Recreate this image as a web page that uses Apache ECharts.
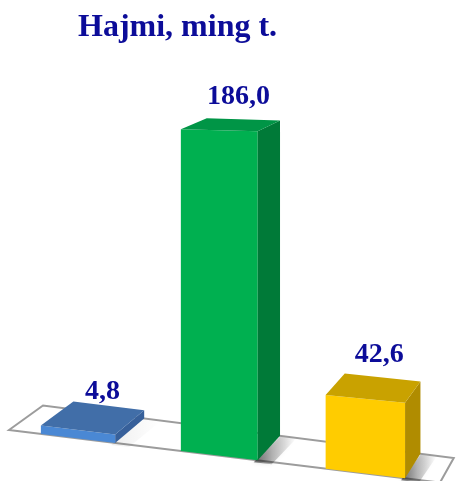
<!DOCTYPE html>
<html>
<head>
<meta charset="utf-8">
<script src="https://cdn.jsdelivr.net/npm/echarts@6/dist/echarts.min.js"></script>
<style>
  html, body { margin: 0; padding: 0; background: #fff; }
  #chart { width: 456px; height: 481px; }
</style>
</head>
<body>
<div id="chart"></div>
<script>
const categories = ['1', '2', '3']
const values = [4.8, 186.0, 42.6]
const titleText = 'Hajmi, ming t.'

// face colours for each bar: front, top, side
const faceColors = [
  ['#4a88d4', '#416ea8', '#37609a'],
  ['#00b050', '#009546', '#007a38'],
  ['#ffcc00', '#c9a200', '#b08c00'],
]
const textColor = '#0c0c99'

// oblique "3d" look
const SLOPE = 0.122   // floor front edge runs down to the right
const WARP = 0.05     // mild perspective squeeze along x
const RISE = 0.0003   // front faces get taller to the right

function makeGeom (cs) {
  const gx = cs.x
  const gw = cs.width
  const gb = cs.y + cs.height
  return {
    warp (u) {
      const t = (u - gx) / gw
      return gx + gw * (t - WARP * t * (1 - t))
    },
    base (x) {
      return gb + SLOPE * (x - gx)
    },
    depth (x, h) {
      return [34 - 0.047 * (x - gx), -24.5 + 0.042 * h]
    },
  }
}

function add (p, d) {
  return [p[0] + d[0], p[1] + d[1]]
}

function renderFloor (params, api) {
  const cs = params.coordSys
  const g = makeGeom(cs)
  const xl = cs.x
  const xr = cs.x + cs.width
  const fl = [xl, g.base(xl)]
  const fr = [xr, g.base(xr)]
  return {
    type: 'polygon',
    silent: true,
    shape: { points: [fl, fr, add(fr, g.depth(xr, 0)), add(fl, g.depth(xl, 0))] },
    style: { fill: '#fff', stroke: '#9c9c9c', lineWidth: 2 },
  }
}

function renderBar (params, api) {
  const i = api.value(0)
  const v = api.value(1)
  const g = makeGeom(params.coordSys)
  const bottom = api.coord([i, 0])
  const top = api.coord([i, v])
  const h = bottom[1] - top[1]
  const bw = api.size([1, 0])[0] * 0.535
  const x0 = g.warp(bottom[0] - bw / 2)
  const x1 = g.warp(bottom[0] + bw / 2)
  const h1 = h * (1 + RISE * (x1 - x0))

  const fb0 = [x0, g.base(x0)]
  const fb1 = [x1, g.base(x1)]
  const ft0 = [x0, fb0[1] - h]
  const ft1 = [x1, fb1[1] - h1]
  const d0 = g.depth(x0, h)
  const d1 = g.depth(x1, h1)
  const bt0 = add(ft0, d0)
  const bt1 = add(ft1, d1)
  const bb1 = add(fb1, g.depth(x1, 0))
  const c = faceColors[params.dataIndex]

  // shadow fades out for flat bars
  const k = Math.min(h / 60, 1)
  const labelX = (ft0[0] + ft1[0]) / 2 + 0.8 * (d0[0] + d1[0]) / 2
  const labelY = (bt0[1] + bt1[1]) / 2 + 1 - 10 * k

  return {
    type: 'group',
    children: [
      {
        type: 'polygon',
        shape: { points: [add(fb1, [-4, 2]), add(bb1, [0, 1]), add(bb1, [16, 3]), add(fb1, [14, 4])] },
        style: {
          fill: new echarts.graphic.LinearGradient(0, 0, 1, 0, [
            { offset: 0, color: 'rgba(0,0,0,' + (0.55 * k) + ')' },
            { offset: 0.45, color: 'rgba(0,0,0,' + (0.25 * k) + ')' },
            { offset: 1, color: 'rgba(0,0,0,0)' },
          ]),
          shadowBlur: 4,
          shadowColor: 'rgba(0,0,0,' + (0.25 * k) + ')',
        },
      },
      {
        type: 'polygon',
        shape: { points: [fb0, fb1, ft1, ft0] },
        style: { fill: c[0] },
      },
      {
        type: 'polygon',
        shape: { points: [fb1, bb1, bt1, ft1] },
        style: { fill: c[2] },
      },
      {
        type: 'polygon',
        shape: { points: [ft0, ft1, bt1, bt0] },
        style: { fill: c[1] },
      },
      {
        type: 'text',
        style: {
          x: labelX,
          y: labelY,
          text: v.toFixed(1).replace('.', ','),
          fill: textColor,
          font: 'bold 28px "Liberation Serif", "Times New Roman", serif',
          align: 'center',
          verticalAlign: 'bottom',
        },
      },
    ],
  }
}

const chart = echarts.init(document.getElementById('chart'))

chart.setOption({
  animation: false,
  title: {
    text: titleText,
    left: 78,
    top: 12,
    padding: 0,
    textStyle: {
      fontFamily: '"Liberation Serif", "Times New Roman", serif',
      fontWeight: 'bold',
      fontSize: 32,
      color: textColor,
    },
  },
  grid: {
    left: 9,
    right: 16,
    top: 84,
    bottom: 51,
  },
  xAxis: {
    type: 'category',
    data: categories,
    show: false,
  },
  yAxis: {
    type: 'value',
    min: 0,
    max: 200,
    show: false,
  },
  series: [
    {
      type: 'custom',
      z: 1,
      data: [[0, 0]],
      renderItem: renderFloor,
    },
    {
      type: 'custom',
      z: 2,
      data: values.map((v, i) => [i, v]),
      renderItem: renderBar,
    },
  ],
})
</script>
</body>
</html>
